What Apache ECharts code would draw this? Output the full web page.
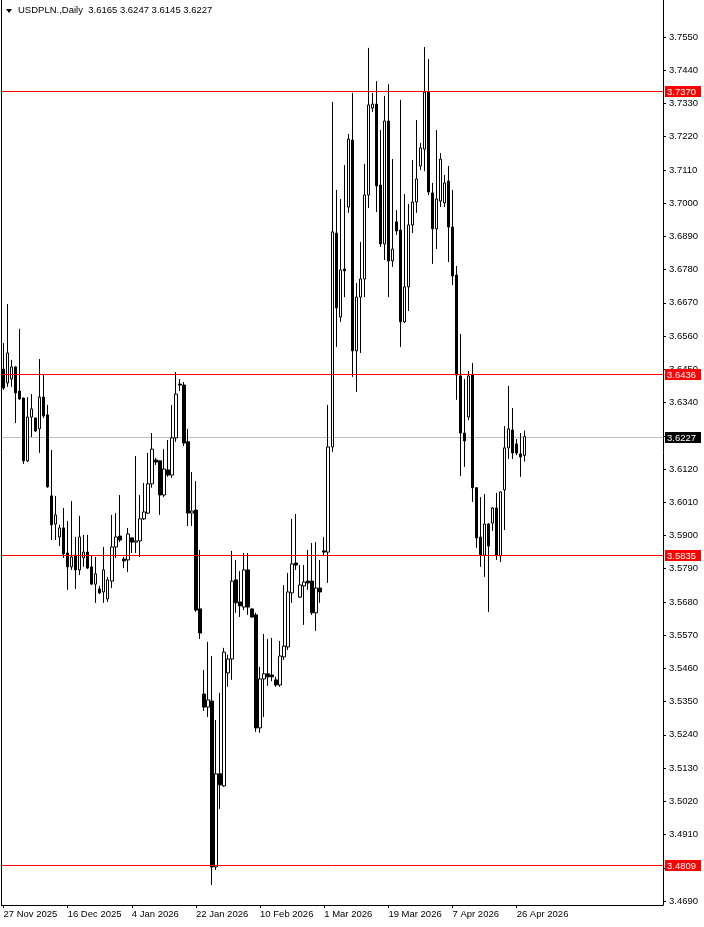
<!DOCTYPE html>
<html><head><meta charset="utf-8">
<script src="https://cdn.jsdelivr.net/npm/echarts@6/dist/echarts.min.js"></script>
<style>html,body{margin:0;padding:0;background:#fff}#c{width:704px;height:927px}</style>
</head><body><div id="c"></div>
<script>
// ---- data ----
const startDate = '2025-11-27'; // first bar; broker has 6 bars/week (no Saturday)
const totalSlots = 165;          // bars that fit in the plot, incl. empty future space
const opens = [3.6451,3.6405,3.6418,3.6458,3.6378,3.6355,3.6147,3.6292,3.6289,3.6253,
3.6358,3.6299,3.6031,3.5938,3.5895,3.5925,3.5842,3.5796,3.5835,3.5786,
3.5826,3.5845,3.5796,3.5739,3.5723,3.5713,3.5690,3.5749,3.5862,3.5898,
3.5822,3.5819,3.5892,3.5878,3.5882,3.5955,3.5974,3.6071,3.6150,3.6147,
3.6034,3.6117,3.6100,3.6223,3.6401,3.6398,3.6210,3.5974,3.5984,3.5657,
3.5375,3.5332,3.5352,3.4803,3.5111,3.5071,3.5445,3.5491,3.5753,3.5680,
3.5663,3.5786,3.5657,3.5637,3.5263,3.5425,3.5442,3.5438,3.5422,3.5405,
3.5498,3.5531,3.5710,3.5809,3.5696,3.5733,3.5749,3.5749,3.5644,3.5726,
3.5849,3.5845,3.6193,3.6901,3.6623,3.6782,3.6987,3.7209,3.6511,3.6689,
3.6749,3.7027,3.7315,3.7328,3.7060,3.6865,3.7272,3.6809,3.6938,3.6911,
3.6607,3.6723,3.6928,3.7004,3.7123,3.7179,3.7368,3.7034,3.6915,3.7007,
3.7001,3.7073,3.6921,3.6762,3.6428,3.6239,3.6292,3.6431,3.6058,3.5895,
3.5835,3.5938,3.5941,3.5991,3.5832,3.6051,3.6190,3.6249,3.6203,3.6170,
3.6165];
const highs = [3.6537,3.6666,3.6481,3.6460,3.6584,3.6356,3.6358,3.6368,3.6290,3.6484,
3.6431,3.6332,3.6183,3.6031,3.5935,3.5991,3.5948,3.6014,3.5895,3.5965,
3.5902,3.5902,3.5835,3.5829,3.5733,3.5862,3.5763,3.5968,3.5974,3.6034,
3.5829,3.5925,3.5893,3.6163,3.6034,3.6074,3.6173,3.6239,3.6157,3.6149,
3.6186,3.6216,3.6332,3.6441,3.6418,3.6408,3.6253,3.6110,3.6080,3.5852,
3.5455,3.5548,3.5501,3.5289,3.5379,3.5528,3.5505,3.5849,3.5819,3.5782,
3.5842,3.5842,3.5658,3.5644,3.5465,3.5574,3.5557,3.5561,3.5432,3.5551,
3.5736,3.5776,3.5955,3.5971,3.5802,3.5802,3.5852,3.5875,3.5878,3.5819,
3.5895,3.6332,3.7335,3.7044,3.7014,3.7126,3.7229,3.7365,3.6736,3.6872,
3.7130,3.7514,3.7365,3.7404,3.7242,3.7355,3.7394,3.7146,3.6977,3.7342,
3.7030,3.6997,3.7143,3.7275,3.7199,3.7517,3.7477,3.7067,3.7242,3.7166,
3.7093,3.7123,3.7044,3.6792,3.6567,3.6418,3.6445,3.6471,3.6060,3.6027,
3.6037,3.5941,3.5994,3.6041,3.6046,3.6262,3.6395,3.6322,3.6219,3.6239,
3.6247];
const lows = [3.6382,3.6392,3.6392,3.6272,3.6349,3.6137,3.6143,3.6226,3.6243,3.6173,
3.6289,3.6058,3.5885,3.5885,3.5865,3.5826,3.5720,3.5786,3.5723,3.5769,
3.5796,3.5789,3.5736,3.5677,3.5706,3.5677,3.5680,3.5726,3.5826,3.5878,
3.5792,3.5779,3.5842,3.5842,3.5829,3.5951,3.5972,3.6058,3.6133,3.5968,
3.6027,3.6094,3.6091,3.6210,3.6378,3.6196,3.5931,3.5931,3.5647,3.5557,
3.5319,3.5299,3.4743,3.4793,3.4995,3.5068,3.5399,3.5422,3.5644,3.5630,
3.5653,3.5637,3.5628,3.5250,3.5247,3.5299,3.5402,3.5418,3.5399,3.5399,
3.5488,3.5521,3.5677,3.5786,3.5693,3.5604,3.5720,3.5637,3.5584,3.5677,
3.5832,3.5743,3.6176,3.6524,3.6607,3.6689,3.6968,3.6425,3.6375,3.6504,
3.6689,3.6984,3.7302,3.6971,3.6855,3.6812,3.6689,3.6789,3.6895,3.6524,
3.6603,3.6643,3.6901,3.6968,3.7110,3.7106,3.7027,3.6799,3.6848,3.6987,
3.6987,3.6805,3.6729,3.6349,3.6097,3.6127,3.6282,3.6011,3.5859,3.5796,
3.5763,3.5647,3.5915,3.5819,3.5812,3.5918,3.6153,3.6153,3.6166,3.6094,
3.6145];
const closes = [3.6388,3.6504,3.6458,3.6372,3.6352,3.6147,3.6292,3.6319,3.6246,3.6358,
3.6296,3.6061,3.5935,3.5968,3.5925,3.5839,3.5796,3.5829,3.5786,3.5895,
3.5845,3.5792,3.5739,3.5773,3.5710,3.5786,3.5753,3.5862,3.5895,3.5885,
3.5816,3.5905,3.5878,3.5882,3.5955,3.5978,3.6071,3.6186,3.6143,3.6034,
3.6120,3.6100,3.6223,3.6368,3.6398,3.6206,3.5974,3.5981,3.5653,3.5577,
3.5332,3.5356,3.4803,3.5111,3.5074,3.5514,3.5491,3.5749,3.5677,3.5667,
3.5786,3.5663,3.5630,3.5263,3.5425,3.5442,3.5432,3.5432,3.5405,3.5501,
3.5534,3.5713,3.5806,3.5802,3.5736,3.5746,3.5743,3.5644,3.5726,3.5713,
3.5845,3.6193,3.6905,3.6653,3.6779,3.6776,3.7212,3.6511,3.6689,3.6749,
3.7027,3.7325,3.7328,3.7057,3.6865,3.7272,3.6809,3.6848,3.6908,3.6607,
3.6723,3.6928,3.7004,3.7080,3.7183,3.7368,3.7037,3.6915,3.7014,3.7146,
3.7067,3.6921,3.6759,3.6431,3.6239,3.6213,3.6428,3.6058,3.5892,3.5835,
3.5938,3.5865,3.5991,3.5835,3.6044,3.6190,3.6253,3.6173,3.6173,3.6160,
3.6227];
const yTickLabels = [3.4690,3.4800,3.4910,3.5020,3.5130,3.5240,3.5350,3.5460,3.5570,3.5680,
3.5790,3.5900,3.6010,3.6120,3.6230,3.6340,3.6450,3.6560,3.6670,3.6780,
3.6890,3.7000,3.7110,3.7220,3.7330,3.7440,3.7550];
const levelLines = [3.7370, 3.6436, 3.5835, 3.4809];
const lastPrice = [3.6227];
const titleText = 'USDPLN.,Daily  3.6165 3.6247 3.6145 3.6227';
const yMin = 3.46768, yMax = 3.76725;
const labelEvery = 16;

// ---- build categories: daily bars, Saturdays skipped ----
const MON = ['Jan','Feb','Mar','Apr','May','Jun','Jul','Aug','Sep','Oct','Nov','Dec'];
const cats = [];
{
  const d = new Date(startDate + 'T12:00:00Z');
  while (cats.length < totalSlots) {
    if (d.getUTCDay() !== 6) cats.push(d.getUTCDate() + ' ' + MON[d.getUTCMonth()] + ' ' + d.getUTCFullYear());
    d.setUTCDate(d.getUTCDate() + 1);
  }
}
const candleData = opens.map((o, i) => [o, closes[i], lows[i], highs[i]]);
const FONT = 'Liberation Sans';
const showIdx = (i) => i % labelEvery === 0 && i < opens.length;

// horizontal price line + right-hand price box, positioned by the y axis scale
function levelRenderer(lineColor, boxColor) {
  return function (params, api) {
    const cs = params.coordSys;
    const v = api.value(1);
    const y = Math.round(api.coord([0, v])[1]) + 0.5;
    const right = cs.x + cs.width;
    return { type: 'group', children: [
      { type: 'line', shape: { x1: cs.x, y1: y, x2: right, y2: y }, style: { stroke: lineColor, lineWidth: 1 } },
      { type: 'rect', shape: { x: right + 2, y: y - 5.5, width: 36, height: 11 }, style: { fill: boxColor } },
      { type: 'text', style: { x: right + 4, y: y + 0.5, text: v.toFixed(4), fill: '#ffffff',
        font: '9.5px "Liberation Sans"', verticalAlign: 'middle', align: 'left' } }
    ] };
  };
}

const chart = echarts.init(document.getElementById('c'), null, { renderer: 'canvas' });
chart.setOption({
  animation: false,
  backgroundColor: '#ffffff',
  grid: { left: 1.5, right: 41, top: 0, bottom: 22, containLabel: false },
  xAxis: {
    type: 'category', data: cats, boundaryGap: true,
    axisLine: { show: true, lineStyle: { color: '#000', width: 1 } },
    axisTick: { show: true, alignWithLabel: true, interval: showIdx, length: 3, lineStyle: { color: '#000' } },
    axisLabel: { interval: showIdx, align: 'left', margin: 4, color: '#000', fontFamily: FONT, fontSize: 9.5 },
    splitLine: { show: false }
  },
  yAxis: [{
    type: 'value', position: 'right', min: yMin, max: yMax, scale: true,
    axisLine: { show: true, lineStyle: { color: '#000', width: 1 } },
    axisTick: { show: true, customValues: yTickLabels, length: 3, lineStyle: { color: '#000' } },
    axisLabel: { customValues: yTickLabels, formatter: v => v.toFixed(4), margin: 6, color: '#000', fontFamily: FONT, fontSize: 9.5 },
    splitLine: { show: false }
  }, {
    type: 'value', position: 'left', min: yMin, max: yMax,
    axisLine: { show: true, onZero: false, lineStyle: { color: '#000', width: 1 } },
    axisTick: { show: false }, axisLabel: { show: false }, splitLine: { show: false }
  }],
  series: [{
    type: 'custom', z: 1, silent: true, clip: false,
    renderItem: levelRenderer('#c0c0c0', '#000000'),
    data: lastPrice.map(v => [0, v])
  }, {
    type: 'candlestick', yAxisIndex: 0, z: 2,
    data: candleData,
    barWidth: 3,
    itemStyle: { color: '#ffffff', color0: '#000000', borderColor: '#000000', borderColor0: '#000000', borderWidth: 1 }
  }, {
    type: 'custom', z: 3, silent: true, clip: false,
    renderItem: levelRenderer('#ff0000', '#ff0000'),
    data: levelLines.map(v => [0, v])
  }],
  graphic: [
    { type: 'polygon', shape: { points: [[6, 9], [12, 9], [9, 13]] }, style: { fill: '#000' } },
    { type: 'text', left: 18, top: 5, style: { text: titleText, fill: '#000', font: '9.5px "Liberation Sans"' } }
  ]
});
</script></body></html>
